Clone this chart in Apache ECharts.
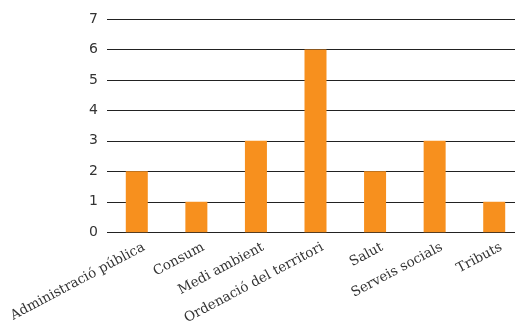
<!DOCTYPE html>
<html>
<head>
<meta charset="utf-8">
<script src="https://cdn.jsdelivr.net/npm/echarts@6/dist/echarts.min.js"></script>
<style>
  html, body { margin: 0; padding: 0; background: #fff; overflow: hidden; }
  #chart { width: 524px; height: 327px; }
</style>
</head>
<body>
<div id="chart"></div>
<script>
const categories = ['Administració pública', 'Consum', 'Medi ambient', 'Ordenació del territori', 'Salut', 'Serveis socials', 'Tributs'];
const values = [2, 1, 3, 6, 2, 3, 1];
const yTicks = [0, 1, 2, 3, 4, 5, 6, 7];

let myChart = echarts.init(document.getElementById('chart'));
let option = {
  animation: false,
  grid: {
    left: 107,
    right: 0,
    top: 19,
    bottom: 94,
  },
  xAxis: {
    type: 'category',
    data: categories,
    axisLine: { show: false },
    axisTick: { show: false },
    axisLabel: {
      rotate: 28,
      interval: 0,
      margin: 18,
      padding: [0, -8, 0, 0],
      fontFamily: 'DejaVu Serif',
      fontSize: 13.5,
      color: '#333',
    },
  },
  yAxis: {
    type: 'value',
    min: yTicks[0],
    max: yTicks[yTicks.length - 1],
    interval: 1,
    axisLine: { show: false },
    axisTick: { show: false },
    axisLabel: {
      margin: 9,
      fontFamily: 'DejaVu Sans',
      fontSize: 14,
      color: '#333',
    },
    splitLine: {
      lineStyle: { color: '#222', width: 1 },
    },
  },
  series: [
    {
      type: 'bar',
      data: values,
      barWidth: 22,
      itemStyle: { color: '#F7901E' },
    },
  ],
};
myChart.setOption(option);
</script>
</body>
</html>
